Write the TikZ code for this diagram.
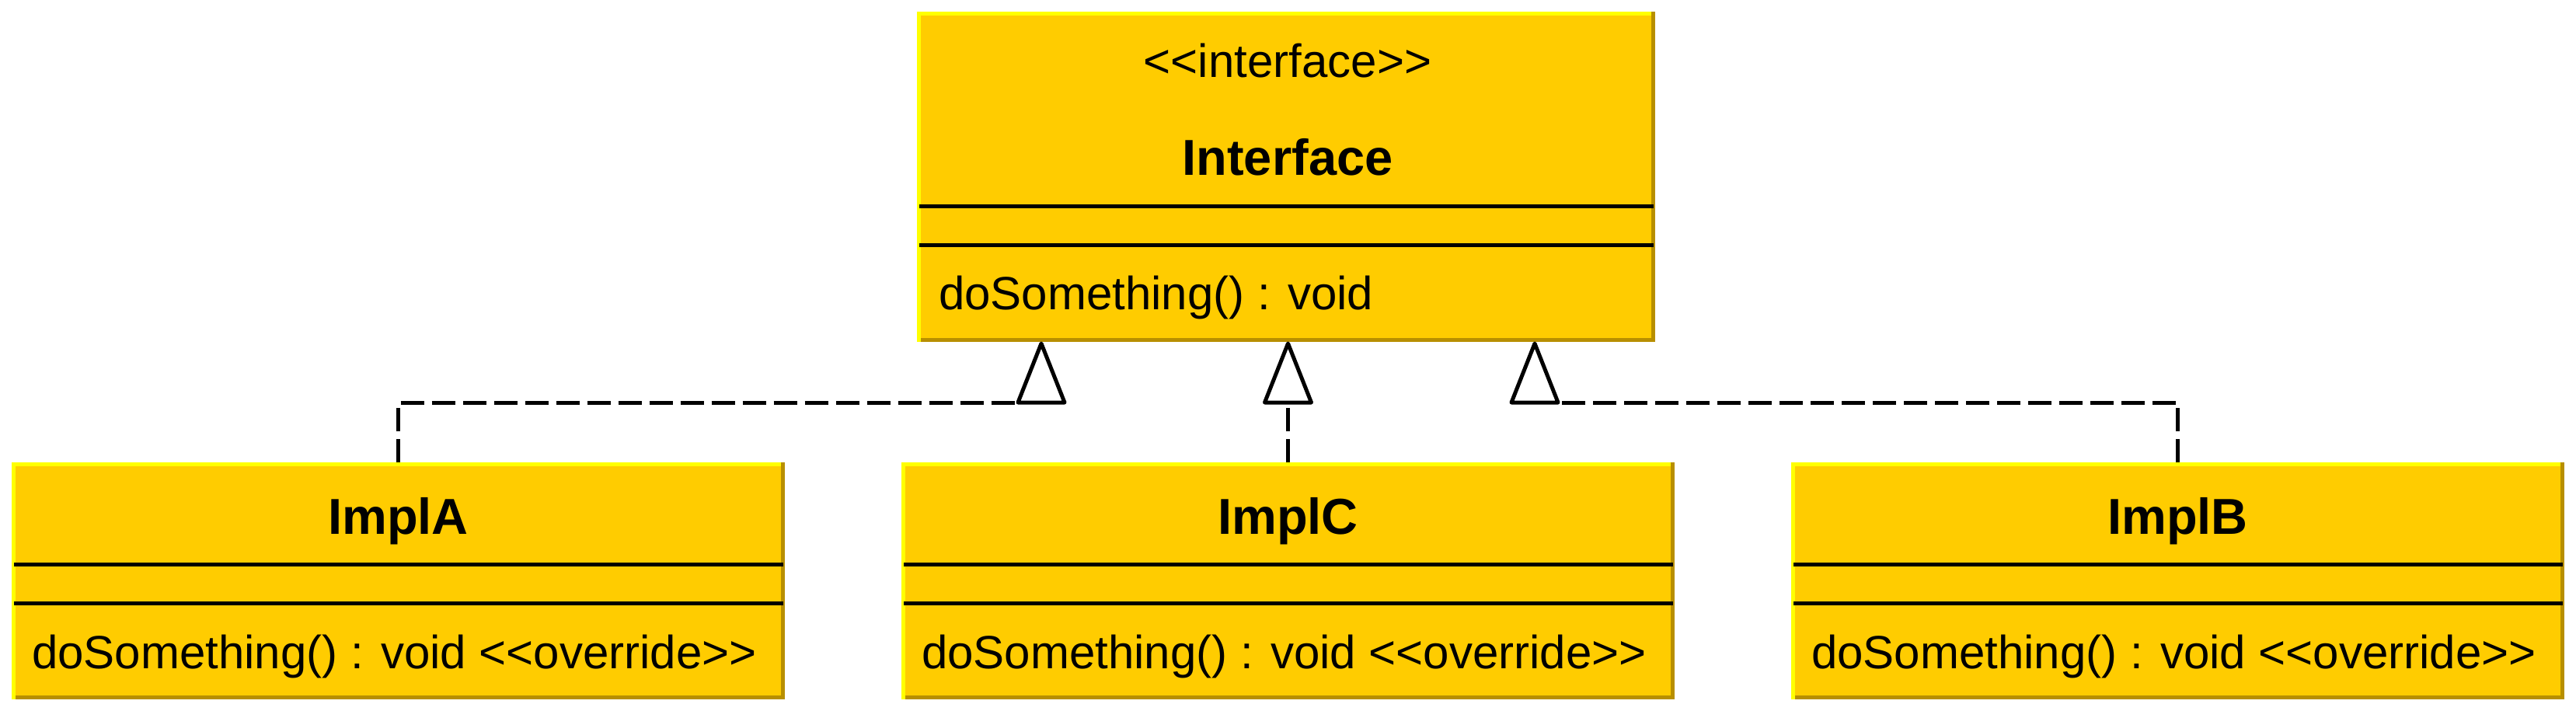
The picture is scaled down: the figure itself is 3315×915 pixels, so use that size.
\documentclass[tikz,border=0pt]{standalone}
\usepackage{fontspec}
\setmainfont{Liberation Sans}
\definecolor{boxfill}{HTML}{FFCC00}
\definecolor{hilite}{HTML}{FFFF00}
\definecolor{edgegold}{HTML}{B88F00}
\begin{document}
\begin{tikzpicture}[x=1pt,y=-1pt,
  classbox/.style={rectangle, inner sep=0pt, outer sep=0pt, fill=boxfill,
    path picture={
      \fill[edgegold] ([xshift=-5pt]path picture bounding box.north east) rectangle (path picture bounding box.south east);
      \fill[edgegold] (path picture bounding box.south west) rectangle ([yshift=5pt]path picture bounding box.south east);
      \fill[hilite] (path picture bounding box.north west) rectangle ([xshift=-5pt,yshift=-5pt]path picture bounding box.north east);
      \fill[hilite] (path picture bounding box.north west) rectangle ([xshift=5pt]path picture bounding box.south west);
    }},
  sepline/.style={line width=5pt, black},
  normtext/.style={font=\fontsize{60}{72}\selectfont, inner sep=0pt, outer sep=0pt},
  titletext/.style={font=\fontsize{65}{78}\selectfont\bfseries, inner sep=0pt, outer sep=0pt},
  realize/.style={line width=5pt, dash pattern=on 30pt off 10pt},
  hollowtri/.style={line width=5pt, fill=white, line join=round}
]
\useasboundingbox (0,0) rectangle (3315,915);

% class boxes
\node[classbox, minimum width=950pt, minimum height=425pt] (iface) at (1655,227.5) {};
\node[classbox, minimum width=995pt, minimum height=305pt] (implA) at (512.5,747.5) {};
\node[classbox, minimum width=995pt, minimum height=305pt] (implC) at (1657.5,747.5) {};
\node[classbox, minimum width=995pt, minimum height=305pt] (implB) at (2802.5,747.5) {};

% compartment separators
\foreach \n/\a/\b in {iface/250/300, implA/131/181, implC/131/181, implB/131/181}{
  \draw[sepline] ([xshift=3pt,yshift=-\a pt]\n.north west) -- ([xshift=-2pt,yshift=-\a pt]\n.north east);
  \draw[sepline] ([xshift=3pt,yshift=-\b pt]\n.north west) -- ([xshift=-2pt,yshift=-\b pt]\n.north east);
}

% texts
\node[normtext, anchor=base] (ifaceSt) at (1657,100) {<{}<interface>{}>};
\node[titletext, anchor=base] (ifaceName) at (1657,225) {Interface};
\node[normtext, anchor=base west] (ifaceOp) at (1208,398) {doSomething() : void};

\node[titletext, anchor=base] (implAName) at (512.5,687) {ImplA};
\node[normtext, anchor=base west] (implAOp) at (41,860) {doSomething() : void <{}<override>{}>};
\node[titletext, anchor=base] (implCName) at (1657.5,687) {ImplC};
\node[normtext, anchor=base west] (implCOp) at (1186,860) {doSomething() : void <{}<override>{}>};
\node[titletext, anchor=base] (implBName) at (2802.5,687) {ImplB};
\node[normtext, anchor=base west] (implBOp) at (2331,860) {doSomething() : void <{}<override>{}>};

% arrow tips on the interface
\coordinate (tA) at (1340,442);
\coordinate (tC) at (1657.5,442);
\coordinate (tB) at (1975,442);
\coordinate (tAl) at ([xshift=-30pt,yshift=-76pt]tA);
\coordinate (tCm) at ([yshift=-76pt]tC);
\coordinate (tBr) at ([xshift=30pt,yshift=-76pt]tB);

% realization connectors
\draw[realize] (implA.north) |- (tAl);
\draw[realize] (implC.north) -- (tCm);
\draw[realize] (implB.north) |- (tBr);

% hollow triangles
\foreach \t in {tA,tC,tB}{
  \draw[hollowtri] (\t) -- ([xshift=30pt,yshift=-76pt]\t) -- ([xshift=-30pt,yshift=-76pt]\t) -- cycle;
}
\end{tikzpicture}
\end{document}
